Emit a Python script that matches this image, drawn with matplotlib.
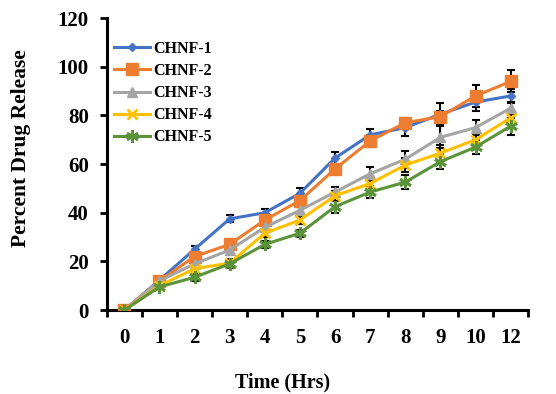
import matplotlib
matplotlib.use('Agg')
import matplotlib.pyplot as plt
import numpy as np

plt.rcParams['font.family'] = ['Liberation Serif', 'DejaVu Serif']
plt.rcParams['font.weight'] = 'bold'

# data
hours = ['0', '1', '2', '3', '4', '5', '6', '7', '8', '9', '10', '12']
chnf1 = [0, 12.3, 25, 37.5, 40, 48, 62.5, 72, 75, 80.5, 85.5, 88]
chnf2 = [0, 12, 22, 27, 37, 45, 58, 69.5, 77, 79.5, 88, 94]
chnf3 = [0, 12, 19, 24.7, 34, 41, 48.5, 56, 62, 71, 75, 83]
chnf4 = [0, 10, 17, 19.3, 31.6, 37, 47, 52, 59.6, 64.5, 70, 79]
chnf5 = [0, 9.5, 13.5, 19, 27, 31.6, 42.5, 48.5, 52.6, 61, 67, 75.6]
err1 = [0, 0.5, 1.5, 1.5, 1.5, 2, 2.5, 2.5, 3.5, 4.5, 3.5, 3]
err2 = [0, 1, 1.5, 1.5, 1.5, 1.5, 2, 2.5, 2, 2.5, 4.5, 4.5]
err3 = [0, 1, 1.5, 1.5, 1.5, 1.5, 2, 3, 3.5, 4.5, 3, 2.5]
err4 = [0, 1, 1.5, 1.5, 1.5, 1.5, 2, 2, 3, 3.5, 3, 3]
err5 = [0, 1, 1.5, 1.5, 1.5, 1.5, 2.5, 2.5, 3, 3, 3, 3.5]
labels = ['CHNF-1', 'CHNF-2', 'CHNF-3', 'CHNF-4', 'CHNF-5']

series = [chnf1, chnf2, chnf3, chnf4, chnf5]
errors = [err1, err2, err3, err4, err5]
colors = ['#4472C4', '#ED7D31', '#A5A5A5', '#FFC000', '#5A9339']
markers = ['D', 's', '^', 'x', (6, 2, 0)]
msizes = [4, 8, 7, 7, 9]

fig = plt.figure(figsize=(5.56, 3.94), dpi=100)
ax = fig.add_axes([0.192, 0.213, 0.758, 0.741])

x = np.arange(len(hours))
for y, e in zip(series, errors):
    ax.errorbar(x, y, yerr=e, fmt='none', ecolor='black', elinewidth=1.5,
                capsize=3, capthick=1.5, zorder=2)
for y, c, m, ms, lab in zip(series, colors, markers, msizes, labels):
    mew = 2 if m in ('x', (6, 2, 0)) else 1
    ax.plot(x, y, color=c, lw=2.2, marker=m, markersize=ms,
            markeredgewidth=mew, label=lab, zorder=3)

ax.set_xlim(-0.5, 11.5)
ax.set_ylim(0, 120)
ax.set_yticks(range(0, 121, 20))
ax.set_xticks(x)
ax.set_xticklabels(hours)
ax.set_xticks(np.arange(-0.5, 12, 1), minor=True)
ax.tick_params(axis='x', which='major', length=0, pad=13, labelsize=15)
ax.tick_params(axis='x', which='minor', length=5, width=2, direction='out')
ax.tick_params(axis='y', length=5, width=2, direction='out', pad=8, labelsize=15)

for s in ['top', 'right']:
    ax.spines[s].set_visible(False)
for s in ['left', 'bottom']:
    ax.spines[s].set_linewidth(2.2)

ax.set_xlabel('Time (Hrs)', fontsize=14.5, fontweight='bold')
ax.set_ylabel('Percent Drug Release', fontsize=15.5, fontweight='bold')
ax.xaxis.set_label_coords(0.418, -0.215)
ax.yaxis.set_label_coords(-0.18, 0.555)

ax.legend(loc='upper left', bbox_to_anchor=(-0.01, 0.96), frameon=False,
          fontsize=11.5, handlelength=2.3, labelspacing=0.38, borderaxespad=0.3,
          handletextpad=0.2)

fig.savefig('out.png', dpi=100)
